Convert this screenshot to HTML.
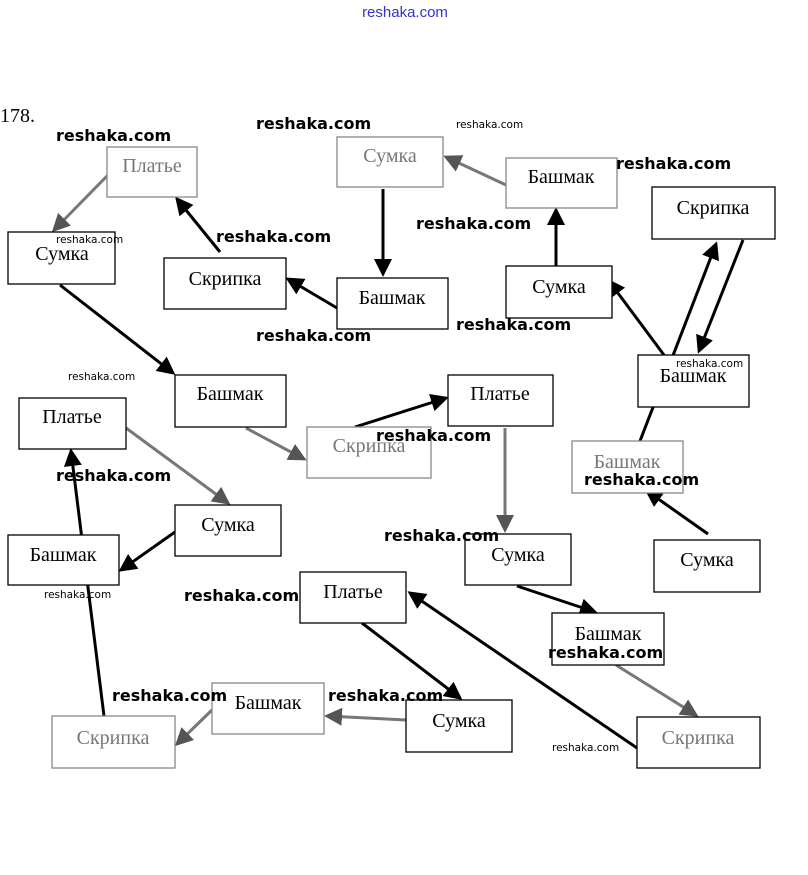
<!DOCTYPE html>
<html><head><meta charset="utf-8"><style>
html,body{margin:0;padding:0;background:#fff;}
svg{display:block}
.b{fill:#fff;stroke:#000;stroke-width:1.3}
.g{fill:#fff;stroke:#888;stroke-width:1.3}
.t{font-family:"Liberation Serif",serif;font-size:20px;text-anchor:middle;dominant-baseline:central;fill:#000}
.tg{fill:#777}
.w{font-family:"DejaVu Sans","Liberation Sans",sans-serif;font-weight:bold;font-size:16px;fill:#000}
.ws{font-family:"DejaVu Sans","Liberation Sans",sans-serif;font-size:10.5px;fill:#000}
.a{stroke:#000;stroke-width:3;marker-end:url(#m)}
.ag{stroke:#777;stroke-width:3;marker-end:url(#mg)}
</style></head><body>
<svg width="808" height="875" viewBox="0 0 808 875">
<defs>
<marker id="m" markerWidth="6" markerHeight="6" refX="5" refY="3" orient="auto" markerUnits="strokeWidth"><path d="M0,0 L6,3 L0,6 z" fill="#000"/></marker>
<marker id="mg" markerWidth="6" markerHeight="6" refX="5" refY="3" orient="auto" markerUnits="strokeWidth"><path d="M0,0 L6,3 L0,6 z" fill="#555"/></marker>
</defs>
<text x="405" y="17" font-family="Liberation Sans,sans-serif" font-size="15" fill="#33c" text-anchor="middle">reshaka.com</text>
<text x="0" y="122" font-family="Liberation Serif,serif" font-size="20">178.</text>

<line class="ag" x1="107" y1="176" x2="54" y2="230"/>
<line class="a" x1="220" y1="252" x2="177" y2="199"/>
<line class="a" x1="337" y1="308" x2="288" y2="279"/>
<line class="a" x1="383" y1="189" x2="383" y2="274"/>
<line class="ag" x1="506" y1="185" x2="446" y2="157"/>
<line class="a" x1="556" y1="266" x2="556" y2="210"/>
<line class="a" x1="664" y1="355" x2="609" y2="281"/>
<line class="a" x1="743" y1="240" x2="699" y2="351"/>
<line class="a" x1="640" y1="441" x2="716" y2="244"/>
<line class="a" x1="60" y1="285" x2="173" y2="373"/>
<line class="ag" x1="246" y1="428" x2="304" y2="459"/>
<line class="a" x1="355" y1="427" x2="446" y2="398"/>
<line class="ag" x1="505" y1="428" x2="505" y2="530"/>
<line class="a" x1="708" y1="534" x2="647" y2="491"/>
<line class="ag" x1="126" y1="428" x2="228" y2="503"/>
<line class="a" x1="175" y1="532" x2="121" y2="570"/>
<line class="a" x1="104" y1="716" x2="71" y2="451"/>
<line class="a" x1="517" y1="586" x2="595" y2="612"/>
<line class="a" x1="637" y1="748" x2="410" y2="593"/>
<line class="a" x1="362" y1="623" x2="460" y2="698"/>
<line class="ag" x1="616" y1="665" x2="696" y2="715"/>
<line class="ag" x1="406" y1="720" x2="327" y2="716"/>
<line class="ag" x1="212" y1="710" x2="177" y2="744"/>

<rect class="g" x="107" y="147" width="90" height="50"/><text class="t tg" x="152" y="166">Платье</text>
<rect class="g" x="337" y="137" width="106" height="50"/><text class="t tg" x="390" y="156">Сумка</text>
<rect class="g" x="506" y="158" width="111" height="50"/><text class="t" x="561" y="177">Башмак</text>
<rect class="b" x="652" y="187" width="123" height="52"/><text class="t" x="713" y="208">Скрипка</text>
<rect class="b" x="8" y="232" width="107" height="52"/><text class="t" x="62" y="254">Сумка</text>
<rect class="b" x="164" y="258" width="122" height="51"/><text class="t" x="225" y="279">Скрипка</text>
<rect class="b" x="337" y="278" width="111" height="51"/><text class="t" x="392" y="298">Башмак</text>
<rect class="b" x="506" y="266" width="106" height="52"/><text class="t" x="559" y="287">Сумка</text>
<rect class="b" x="638" y="355" width="111" height="52"/><text class="t" x="693" y="376">Башмак</text>
<rect class="b" x="175" y="375" width="111" height="52"/><text class="t" x="230" y="394">Башмак</text>
<rect class="b" x="19" y="398" width="107" height="51"/><text class="t" x="72" y="417">Платье</text>
<rect class="g" x="307" y="427" width="124" height="51"/><text class="t tg" x="369" y="446">Скрипка</text>
<rect class="b" x="448" y="375" width="105" height="51"/><text class="t" x="500" y="394">Платье</text>
<rect class="g" x="572" y="441" width="111" height="52"/><text class="t tg" x="627" y="462">Башмак</text>
<rect class="b" x="175" y="505" width="106" height="51"/><text class="t" x="228" y="525">Сумка</text>
<rect class="b" x="8" y="535" width="111" height="50"/><text class="t" x="63" y="555">Башмак</text>
<rect class="b" x="465" y="534" width="106" height="51"/><text class="t" x="518" y="555">Сумка</text>
<rect class="b" x="654" y="540" width="106" height="52"/><text class="t" x="707" y="560">Сумка</text>
<rect class="b" x="300" y="572" width="106" height="51"/><text class="t" x="353" y="592">Платье</text>
<rect class="b" x="552" y="613" width="112" height="52"/><text class="t" x="608" y="634">Башмак</text>
<rect class="g" x="212" y="683" width="112" height="51"/><text class="t" x="268" y="703">Башмак</text>
<rect class="g" x="52" y="716" width="123" height="52"/><text class="t tg" x="113" y="738">Скрипка</text>
<rect class="b" x="406" y="700" width="106" height="52"/><text class="t" x="459" y="721">Сумка</text>
<rect class="b" x="637" y="717" width="123" height="51"/><text class="t tg" x="698" y="738">Скрипка</text>

<text class="w" x="56" y="141">reshaka.com</text>
<text class="w" x="256" y="129">reshaka.com</text>
<text class="ws" x="456" y="128">reshaka.com</text>
<text class="w" x="616" y="169">reshaka.com</text>
<text class="ws" x="56" y="243">reshaka.com</text>
<text class="w" x="216" y="242">reshaka.com</text>
<text class="w" x="416" y="229">reshaka.com</text>
<text class="w" x="256" y="341">reshaka.com</text>
<text class="w" x="456" y="330">reshaka.com</text>
<text class="ws" x="676" y="367">reshaka.com</text>
<text class="ws" x="68" y="380">reshaka.com</text>
<text class="w" x="376" y="441">reshaka.com</text>
<text class="w" x="56" y="481">reshaka.com</text>
<text class="w" x="584" y="485">reshaka.com</text>
<text class="w" x="384" y="541">reshaka.com</text>
<text class="ws" x="44" y="598">reshaka.com</text>
<text class="w" x="184" y="601">reshaka.com</text>
<text class="w" x="548" y="658">reshaka.com</text>
<text class="w" x="112" y="701">reshaka.com</text>
<text class="w" x="328" y="701">reshaka.com</text>
<text class="ws" x="552" y="751">reshaka.com</text>
</svg>
</body></html>
